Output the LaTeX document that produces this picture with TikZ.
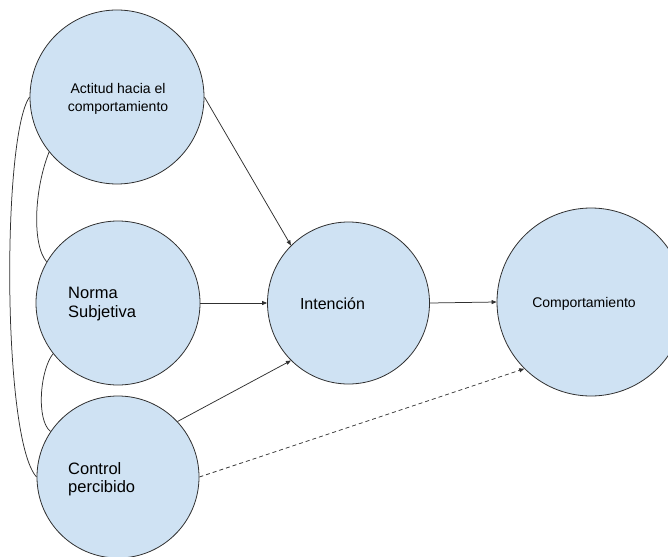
\documentclass[tikz,border=0pt]{standalone}
\usepackage{fontspec}
\setmainfont{Liberation Sans}
\usetikzlibrary{arrows.meta}
\definecolor{bubble}{HTML}{CFE2F3}
\definecolor{edge}{HTML}{303030}
\tikzset{
  bub/.style={circle, draw=edge, line width=0.8pt, fill=bubble, inner sep=0pt},
  txt/.style={inner sep=0pt, text=black},
  conn/.style={draw=edge, line width=0.75pt},
  arr/.style={conn, -{Triangle[length=5pt,width=4pt]}},
  dasharr/.style={arr, dash pattern=on 4pt off 3pt}
}
\begin{document}
\begin{tikzpicture}[x=1pt,y=-1pt]
\useasboundingbox (0,0) rectangle (668,556);
\node[bub, minimum size=174pt] (actitud) at (117,97) {};
\node[bub, minimum size=164pt] (norma) at (118,303) {};
\node[bub, minimum size=162pt] (control) at (118,477) {};
\node[bub, minimum size=162pt] (intencion) at (348.5,303) {};
\node[bub, minimum size=188pt] (comport) at (591,302) {};

\node[txt, align=center, font=\fontsize{14}{18}\selectfont] (tA) at (118,99) {Actitud hacia el\\comportamiento};
\node[txt, align=left, anchor=west, font=\fontsize{16.5}{18.5}\selectfont] (tN) at (68,304) {Norma\\Subjetiva};
\node[txt, align=left, anchor=west, font=\fontsize{16.5}{18.5}\selectfont] (tC) at (68,479) {Control\\percibido};
\node[txt, font=\fontsize{16}{19}\selectfont] (tI) at (332.5,304) {Intención};
\node[txt, font=\fontsize{14}{18}\selectfont] (tCo) at (584,304) {Comportamiento};

\draw[arr] (actitud.east) -- (intencion.135);
\draw[arr] (norma.east) -- (intencion.west);
\draw[arr] (control.43) -- (intencion.225);
\draw[arr] (intencion.east) -- (comport.west);
\draw[dasharr] (control.east) -- (comport.225);

\draw[conn] (actitud.219) .. controls (34,190) and (32,245) .. (norma.150);
\draw[conn] (norma.218) .. controls (40,370) and (36,420) .. (control.146);
\draw[conn] (actitud.west) .. controls (2,135) and (2,440) .. (control.west);
\end{tikzpicture}
\end{document}
